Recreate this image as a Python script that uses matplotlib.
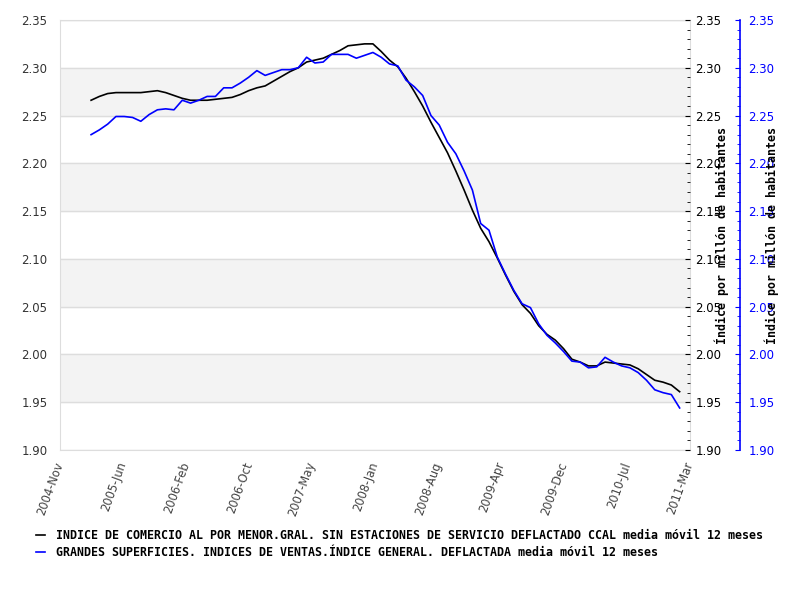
import matplotlib.pyplot as plt
from matplotlib.ticker import MultipleLocator
import numpy as np

# tick labels along the x axis (evenly spaced over Nov 2004 - Mar 2011)
tick_labels = ['2004-Nov', '2005-Jun', '2006-Feb', '2006-Oct', '2007-May', '2008-Jan',
               '2008-Aug', '2009-Apr', '2009-Dec', '2010-Jul', '2011-Mar']
n_months = 76  # months between first and last tick label

# monthly values (12 month moving average)
comercio = [2.266, 2.270, 2.273, 2.274, 2.274, 2.274, 2.274, 2.275, 2.276, 2.274,
            2.271, 2.268, 2.266, 2.266, 2.266, 2.267, 2.268, 2.269, 2.272, 2.276,
            2.279, 2.281, 2.286, 2.291, 2.296, 2.300, 2.306, 2.308, 2.310, 2.314,
            2.318, 2.323, 2.324, 2.325, 2.325, 2.317, 2.308, 2.301, 2.289, 2.275,
            2.260, 2.243, 2.227, 2.211, 2.192, 2.172, 2.151, 2.132, 2.118, 2.101,
            2.083, 2.066, 2.052, 2.043, 2.030, 2.021, 2.015, 2.006, 1.995, 1.992,
            1.988, 1.988, 1.992, 1.991, 1.990, 1.989, 1.985, 1.979, 1.973, 1.971,
            1.968, 1.961]
superficies = [2.230, 2.235, 2.241, 2.249, 2.249, 2.248, 2.244, 2.251, 2.256, 2.257,
               2.256, 2.266, 2.263, 2.266, 2.270, 2.270, 2.279, 2.279, 2.284, 2.290,
               2.297, 2.292, 2.295, 2.298, 2.298, 2.300, 2.311, 2.305, 2.306, 2.314,
               2.314, 2.314, 2.310, 2.313, 2.316, 2.311, 2.304, 2.302, 2.287, 2.280,
               2.271, 2.250, 2.240, 2.222, 2.210, 2.192, 2.172, 2.137, 2.130, 2.102,
               2.084, 2.067, 2.053, 2.049, 2.032, 2.020, 2.012, 2.003, 1.993, 1.992,
               1.986, 1.987, 1.997, 1.992, 1.988, 1.986, 1.981, 1.973, 1.963, 1.960,
               1.958, 1.944]
x = 3.75 + np.arange(len(comercio))

names = ['INDICE DE COMERCIO AL POR MENOR.GRAL. SIN ESTACIONES DE SERVICIO DEFLACTADO CCAL media móvil 12 meses',
         'GRANDES SUPERFICIES. INDICES DE VENTAS.ÍNDICE GENERAL. DEFLACTADA media móvil 12 meses']
ylab = 'Índice por millón de habitantes'

ymin, ymax = 1.90, 2.35
mono = ['DejaVu Sans Mono']

fig = plt.figure(figsize=(8, 6), dpi=100)
ax = fig.add_axes([0.075, 0.25, 0.7875, 0.7167])

# alternating bands and grid
for lo in np.arange(1.95, 2.35, 0.10):
    ax.axhspan(lo, lo + 0.05, color='#f3f3f3', zorder=0)
for v in np.arange(ymin, ymax + 0.001, 0.05):
    ax.axhline(v, color='#dddddd', lw=1, zorder=1)

l1, = ax.plot(x, comercio, color='black', lw=1.2, zorder=3)
ax.set_xlim(0, n_months)
ax.set_ylim(ymin, ymax)
ax.yaxis.set_major_locator(MultipleLocator(0.05))
ax.yaxis.set_major_formatter('{x:.2f}')
ax.tick_params(axis='y', length=0, pad=9, labelsize=8.5, labelcolor='#333333')
ax.set_xticks(np.linspace(0, n_months, len(tick_labels)))
ax.set_xticklabels(tick_labels, rotation=70, ha='right', va='center',
                   rotation_mode='anchor', fontsize=8.3, color='#444444')
ax.tick_params(axis='x', length=0, pad=9)
for s in ax.spines.values():
    s.set_color('#dddddd')

# black right axis
axk = ax.twinx()
axk.set_ylim(ymin, ymax)
axk.yaxis.set_major_locator(MultipleLocator(0.05))
axk.yaxis.set_minor_locator(MultipleLocator(0.01))
axk.yaxis.set_major_formatter('{x:.2f}')
axk.tick_params(axis='y', which='major', direction='in', length=3.6, pad=4,
                labelsize=8.5, color='black', labelcolor='black')
axk.tick_params(axis='y', which='minor', direction='in', length=2.4, color='black')
for s in axk.spines.values():
    s.set_visible(False)

# blue right axis
axb = ax.twinx()
l2, = axb.plot(x, superficies, color='blue', lw=1.2, zorder=3)
axb.set_ylim(ymin, ymax)
axb.spines['right'].set_position(('axes', 1.0794))
axb.spines['right'].set_color('blue')
axb.spines['right'].set_linewidth(1.2)
for side in ['top', 'left', 'bottom']:
    axb.spines[side].set_visible(False)
axb.yaxis.set_major_locator(MultipleLocator(0.05))
axb.yaxis.set_minor_locator(MultipleLocator(0.01))
axb.yaxis.set_major_formatter('{x:.2f}')
axb.tick_params(axis='y', which='major', direction='in', length=3.6, pad=6,
                labelsize=8.5, color='blue', labelcolor='blue')
axb.tick_params(axis='y', which='minor', direction='in', length=2.4, color='blue')

fig.text(722 / 800, 1 - 236 / 600, ylab, rotation=90, ha='center', va='center',
         family=mono, fontsize=8.4, fontweight='bold')
fig.text(772 / 800, 1 - 236 / 600, ylab, rotation=90, ha='center', va='center',
         family=mono, fontsize=8.4, fontweight='bold')

fig.legend([l1, l2], names, loc='upper left', bbox_to_anchor=(36 / 800, 1 - 529 / 600),
           frameon=False, borderpad=0, borderaxespad=0, handlelength=0.75,
           handletextpad=1.0, labelspacing=0.35,
           prop={'family': mono, 'size': 8.4, 'weight': 'bold'})

fig.savefig('out.png', dpi=100)
